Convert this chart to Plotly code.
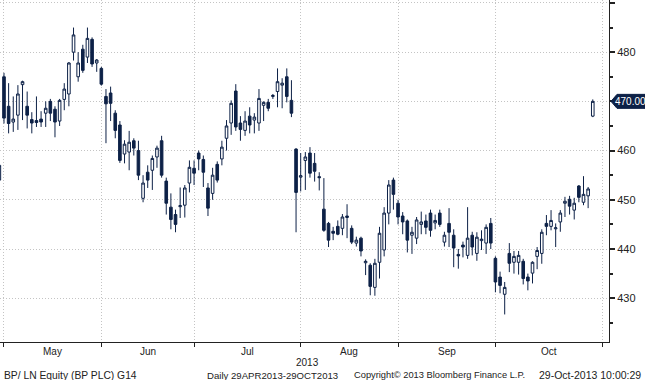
import pandas as pd
import plotly.graph_objects as go

# ---------------- data ----------------
holidays = ["2013-05-06", "2013-05-27", "2013-08-26"]
trading_days = [d.strftime("%Y-%m-%d") for d in pd.bdate_range("2013-04-29", "2013-10-31")
                if d.strftime("%Y-%m-%d") not in holidays]

opens = [454.0, 475.0, 469.0, 465.8, 467.2, 473.4, 469.0, 466.3, 466.1, 466.4,
         467.6, 470.0, 468.4, 466.0, 470.4, 471.5, 480.0, 475.0, 480.6, 479.0,
         482.6, 477.8, 476.7, 471.0, 471.7, 467.6, 465.2, 459.3, 459.7, 462.0,
         460.0, 450.3, 455.6, 456.0, 458.7, 462.0, 453.8, 448.5, 447.0, 448.6,
         448.9, 453.4, 456.4, 459.5, 458.2, 452.4, 451.3, 457.2, 458.3, 462.5,
         465.6, 472.1, 465.6, 464.1, 467.0, 466.2, 465.6, 469.2, 469.8, 471.0,
         472.0, 473.3, 475.0, 470.2, 460.3, 454.6, 458.0, 459.5, 457.4, 454.7,
         448.1, 445.2, 443.6, 444.6, 444.2, 446.4, 444.2, 441.2, 442.2, 437.2,
         436.7, 432.2, 437.3, 439.8, 447.3, 454.0, 449.3, 446.7, 445.7, 442.8,
         442.2, 445.0, 445.7, 447.3, 445.3, 447.3, 441.4, 445.2, 442.8, 438.9,
         440.8, 438.7, 442.8, 439.1, 441.7, 441.2, 445.2, 438.1, 434.3, 430.8,
         439.1, 437.3, 437.3, 437.5, 434.3, 435.1, 438.5, 439.1, 445.2, 444.6,
         444.1, 445.5, 449.3, 450.1, 447.9, 452.8, 449.5, 450.8, 467.0]
highs = [457.5, 475.8, 473.7, 471.0, 473.3, 474.2, 472.0, 467.8, 471.0, 468.0,
         470.0, 470.5, 469.0, 470.5, 473.7, 478.0, 485.0, 480.0, 481.5, 485.0,
         483.0, 478.6, 477.0, 472.5, 473.0, 468.2, 466.0, 462.1, 464.0, 462.5,
         462.0, 455.0, 457.0, 459.0, 461.0, 463.0, 454.5, 451.3, 448.0, 452.5,
         453.0, 458.0, 458.0, 460.0, 459.0, 453.4, 456.5, 457.8, 462.0, 466.2,
         470.2, 473.5, 467.0, 468.0, 468.8, 467.6, 472.5, 470.0, 470.5, 471.5,
         476.7, 474.7, 476.7, 474.3, 460.5, 459.5, 459.7, 460.7, 459.5, 455.6,
         454.4, 445.5, 444.5, 445.8, 447.1, 449.1, 444.8, 442.5, 442.5, 437.9,
         437.1, 438.0, 444.5, 448.5, 454.0, 454.5, 450.0, 447.5, 446.0, 444.5,
         446.5, 447.6, 447.0, 448.0, 447.0, 448.0, 443.5, 448.3, 444.0, 440.0,
         441.5, 448.5, 443.5, 443.4, 443.8, 445.0, 446.3, 438.5, 435.4, 433.3,
         441.2, 439.6, 439.6, 438.0, 435.0, 437.5, 440.4, 444.0, 446.9, 447.9,
         445.2, 447.9, 450.6, 450.8, 450.4, 453.0, 454.8, 452.6, 470.4]
lows = [451.5, 465.5, 463.5, 463.8, 464.2, 466.2, 464.5, 463.5, 464.8, 464.8,
        464.8, 466.0, 462.7, 465.0, 468.2, 469.0, 478.3, 474.0, 475.8, 477.8,
        477.0, 476.0, 473.2, 461.5, 466.0, 462.5, 457.5, 457.4, 456.0, 459.0,
        454.0, 449.5, 452.4, 452.0, 456.5, 454.5, 447.0, 444.0, 443.4, 446.3,
        446.4, 451.5, 453.0, 456.0, 452.6, 446.7, 450.0, 453.5, 457.0, 460.0,
        463.2, 464.0, 462.0, 463.0, 463.5, 463.5, 464.0, 466.0, 468.0, 470.5,
        468.8, 468.6, 469.8, 466.8, 443.4, 451.7, 452.0, 454.5, 453.7, 451.9,
        443.5, 440.4, 441.8, 442.8, 442.8, 442.2, 441.0, 440.5, 438.5, 434.7,
        430.6, 430.5, 434.0, 438.5, 445.0, 448.0, 445.0, 443.0, 439.3, 439.0,
        441.0, 443.0, 443.0, 442.5, 444.0, 444.5, 440.5, 440.4, 436.3, 436.0,
        438.3, 438.0, 438.7, 437.6, 439.8, 439.0, 440.0, 431.2, 431.0, 426.7,
        435.3, 435.0, 434.8, 432.8, 431.6, 433.0, 435.9, 437.0, 442.8, 443.8,
        440.4, 443.5, 446.5, 447.0, 446.0, 449.5, 448.9, 448.3, 466.8]
closes = [457.0, 466.6, 465.5, 466.4, 471.5, 474.0, 467.2, 465.6, 465.7, 465.8,
          468.6, 467.6, 465.8, 470.2, 472.5, 477.8, 483.5, 477.8, 476.3, 482.8,
          477.6, 478.4, 473.5, 469.5, 469.6, 464.1, 458.0, 461.3, 461.7, 460.5,
          455.0, 453.4, 454.0, 458.4, 460.5, 455.0, 449.3, 446.0, 445.0, 448.8,
          452.4, 456.6, 455.4, 458.3, 455.6, 448.3, 455.0, 454.0, 460.7, 465.0,
          469.6, 464.8, 464.3, 466.0, 465.2, 466.8, 470.6, 469.8, 468.6, 471.2,
          474.0, 473.7, 471.0, 467.6, 451.5, 454.9, 458.7, 455.4, 455.8, 454.5,
          443.8, 441.8, 443.2, 443.0, 446.5, 446.7, 441.4, 441.8, 439.6, 437.5,
          432.4, 437.1, 443.2, 447.3, 453.0, 451.1, 446.5, 445.5, 441.8, 443.4,
          445.9, 445.5, 444.4, 443.8, 445.8, 445.0, 442.8, 443.4, 440.2, 438.6,
          440.4, 442.2, 440.4, 442.4, 442.0, 444.4, 441.2, 433.3, 432.6, 432.2,
          437.1, 438.5, 438.7, 434.0, 433.5, 437.3, 439.7, 443.4, 444.6, 445.8,
          444.3, 447.3, 449.7, 448.7, 449.3, 450.5, 451.1, 452.2, 470.0]

y_tick_values = [430, 440, 450, 460, 470, 480, 490]
y_tick_labels = ["430", "440", "450", "460", "", "480", ""]
month_names = ["May", "Jun", "Jul", "Aug", "Sep", "Oct"]
last_price_label = "470.00"
footer_left = "BP/ LN Equity (BP PLC) G14"
footer_mid = "Daily 29APR2013-29OCT2013"
footer_copy = "Copyright\u00a9 2013 Bloomberg Finance L.P."
footer_right = "29-Oct-2013 10:00:29"
year_label = "2013"

# ---------------- derived axis structure ----------------
n = len(closes)
dates = trading_days[:n]
future = trading_days[n:]
s = pd.Series(range(len(trading_days)), index=pd.to_datetime(trading_days))
month_end_idx = [int(v) for v in s.groupby([s.index.year, s.index.month]).max().values]
month_end_dates = [trading_days[i] for i in month_end_idx]
month_mid = [(month_end_idx[k] + month_end_idx[k + 1]) / 2 for k in range(len(month_end_idx) - 1)]

NAVY = "#0d2147"
FONT = "Liberation Sans, Arial, sans-serif"
PLOT_W = 609.0
GRID = "#c4c4c4"
DOT = "1px,2px"
TXT = "#222"

fig = go.Figure()
fig.add_trace(go.Candlestick(
    x=dates, open=opens, high=highs, low=lows, close=closes,
    increasing=dict(line=dict(color=NAVY, width=1), fillcolor="white"),
    decreasing=dict(line=dict(color=NAVY, width=1), fillcolor=NAVY),
    whiskerwidth=0, showlegend=False, hoverinfo="skip",
))
fig.add_trace(go.Scatter(x=future, y=[None] * len(future), mode="markers",
                         showlegend=False, hoverinfo="skip"))

fig.update_layout(
    width=645, height=380,
    margin=dict(l=0, r=36, t=0, b=38, pad=0),
    paper_bgcolor="white", plot_bgcolor="white",
    boxgap=0.2,
    font=dict(family=FONT, size=10, color=TXT),
    xaxis=dict(
        type="category", categoryorder="array", categoryarray=trading_days,
        range=[0.14, 131.5], rangeslider=dict(visible=False),
        tickvals=month_end_dates, ticktext=[""] * len(month_end_dates),
        showgrid=True, gridcolor=GRID, griddash=DOT, gridwidth=1,
        ticks="outside", ticklen=4, tickcolor=TXT, tickwidth=1,
        showline=True, linecolor=TXT, linewidth=1,
        zeroline=False, automargin=False, fixedrange=True,
    ),
    yaxis=dict(
        side="right", range=[421.1, 490.6],
        tickvals=y_tick_values, ticktext=y_tick_labels,
        showgrid=True, gridcolor=GRID, griddash=DOT, gridwidth=1,
        ticks="outside", ticklen=5, tickwidth=1.5, tickcolor=TXT,
        minor=dict(dtick=5, ticks="outside", ticklen=3, tickcolor=TXT, showgrid=False),
        showline=True, linecolor=TXT, linewidth=1,
        tickfont=dict(family=FONT, size=11, color=TXT),
        zeroline=False, automargin=False, fixedrange=True,
    ),
)

annotations = []
for name, mid in zip(month_names, month_mid):
    annotations.append(dict(x=mid, xref="x", y=0, yref="paper", yanchor="middle",
                            yshift=-9, text=name, showarrow=False,
                            font=dict(family=FONT, size=10, color=TXT)))
annotations.append(dict(x=307 / PLOT_W, xref="paper", y=0, yref="paper", yanchor="middle",
                        yshift=-20, text=year_label, showarrow=False,
                        font=dict(family=FONT, size=10, color=TXT)))
footer = [(footer_left, 2, "left", 10.3), (footer_mid, 205, "left", 9.6),
          (footer_copy, 352, "left", 9.3), (footer_right, 643, "right", 10.5)]
for txt, px, anchor, size in footer:
    annotations.append(dict(x=px / PLOT_W, xref="paper", xanchor=anchor, y=0, yref="paper",
                            yanchor="middle", yshift=-33, text=txt, showarrow=False,
                            font=dict(family=FONT, size=size, color=TXT)))
annotations.append(dict(x=1, xref="paper", xanchor="center", xshift=21.5, y=closes[-1], yref="y",
                        yanchor="middle", text=last_price_label, showarrow=False,
                        font=dict(family=FONT, size=10, color="white")))
fig.update_layout(annotations=annotations)

fig.add_shape(type="path", xref="paper", xsizemode="pixel", xanchor=1,
              yref="y", ysizemode="pixel", yanchor=closes[-1],
              path="M 2 0 L 8 7 L 36 7 L 36 -7 L 8 -7 Z",
              fillcolor=NAVY, line=dict(color=NAVY, width=1), layer="above")

fig.write_html("out.html", config={"displayModeBar": False},
               post_script="document.body.style.margin='0';document.body.style.overflow='hidden';")
